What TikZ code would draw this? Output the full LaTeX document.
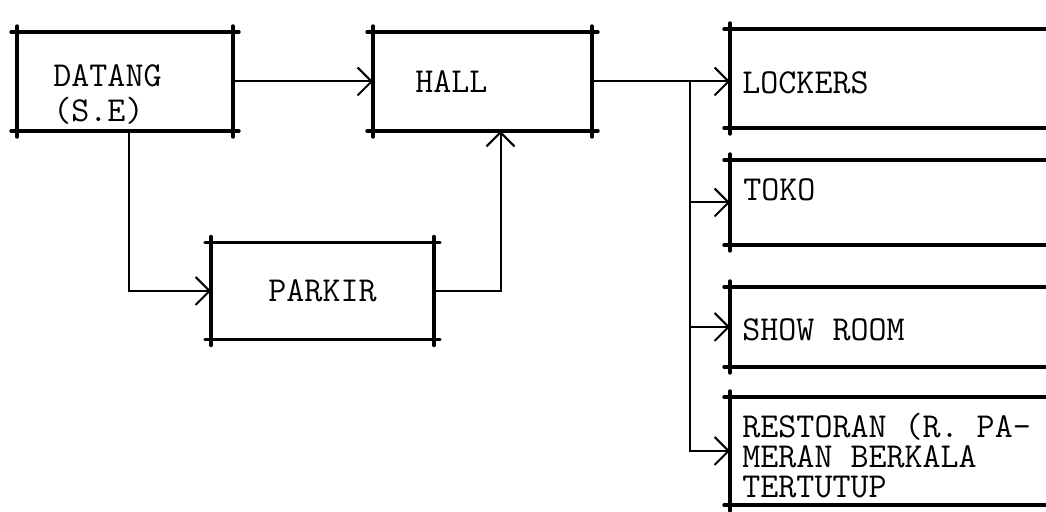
\documentclass[tikz,border=0pt]{standalone}
\usepackage{fontspec}
\usetikzlibrary{arrows.meta,positioning}

\tikzset{
  box/.style={rectangle, inner sep=0pt, outer sep=0pt},
  edge/.style={line width=1.7pt, line cap=round},
  flow/.style={line width=1pt, -{Straight Barb[length=7pt,width=14pt,line width=1pt]}},
  lbl/.style={font=\ttfamily\fontsize{17.5}{14.5}\selectfont, inner sep=0pt, align=left, anchor=west}
}

\begin{document}
\begin{tikzpicture}[x=0.5pt,y=-0.5pt]
  \useasboundingbox (0,0) rectangle (1046,512);
  \clip (0,0) rectangle (1046,512);

  % boxes
  \node[box, minimum width=108pt, minimum height=49.5pt] (datang) at (125,81.5) {};
  \node[box, minimum width=109.5pt, minimum height=49.5pt] (hall) at (482.5,81.5) {};
  \node[box, minimum width=111.5pt, minimum height=48.5pt] (parkir) at (322.5,291) {};
  \node[box, minimum width=165pt, minimum height=49.5pt] (lockers) at (895,78.5) {};
  \node[box, minimum width=165pt, minimum height=42.5pt] (toko) at (895,202.5) {};
  \node[box, minimum width=165pt, minimum height=40pt] (show) at (895,327) {};
  \node[box, minimum width=165pt, minimum height=54pt] (rest) at (895,451) {};

  % edges crossing at the corners
  \foreach \b in {datang,hall,parkir,lockers,toko,show,rest} {
    \draw[edge] ([xshift=-3pt]\b.north west) -- ([xshift=3pt]\b.north east);
    \draw[edge] ([xshift=-3pt]\b.south west) -- ([xshift=3pt]\b.south east);
    \draw[edge] ([yshift=3pt]\b.north west) -- ([yshift=-3pt]\b.south west);
    \draw[edge] ([yshift=3pt]\b.north east) -- ([yshift=-3pt]\b.south east);
  }

  % texts
  \node[lbl, right=18pt of datang.west, yshift=-6.75pt] (datangtxt) {DATANG\\[3pt](S.E)};
  \node[lbl, right=21pt of hall.west] (halltxt) {HALL};
  \node[lbl, anchor=center] (parkirtxt) at (parkir.center) {PARKIR};
  \node[lbl, right=6pt of lockers.west, yshift=-2pt] (lockerstxt) {LOCKERS};
  \node[lbl, right=6.5pt of toko.west, yshift=6.25pt] (tokotxt) {TOKO};
  \node[lbl, right=6pt of show.west, yshift=-1.5pt] (showtxt) {SHOW ROOM};
  \node[lbl, right=6pt of rest.west, yshift=-2.5pt] (resttxt) {RESTORAN (R. PA-\\[0.5pt]MERAN BERKALA\\[0.5pt]TERTUTUP};

  % flow
  \draw[flow] (datang.south) ++(2pt,0) |- (parkir.west);
  \draw[flow] (datang.east) -- (hall.west);
  \draw[flow] (parkir.east) -| ([xshift=9pt]hall.south);
  \draw[flow] (hall.east) -- (hall.east -| lockers.west);
  \coordinate (split) at (690,80);
  \draw[flow] (split) |- (toko.west);
  \draw[flow] (split) |- (show.west);
  \draw[flow] (split) |- (rest.west);
\end{tikzpicture}
\end{document}
